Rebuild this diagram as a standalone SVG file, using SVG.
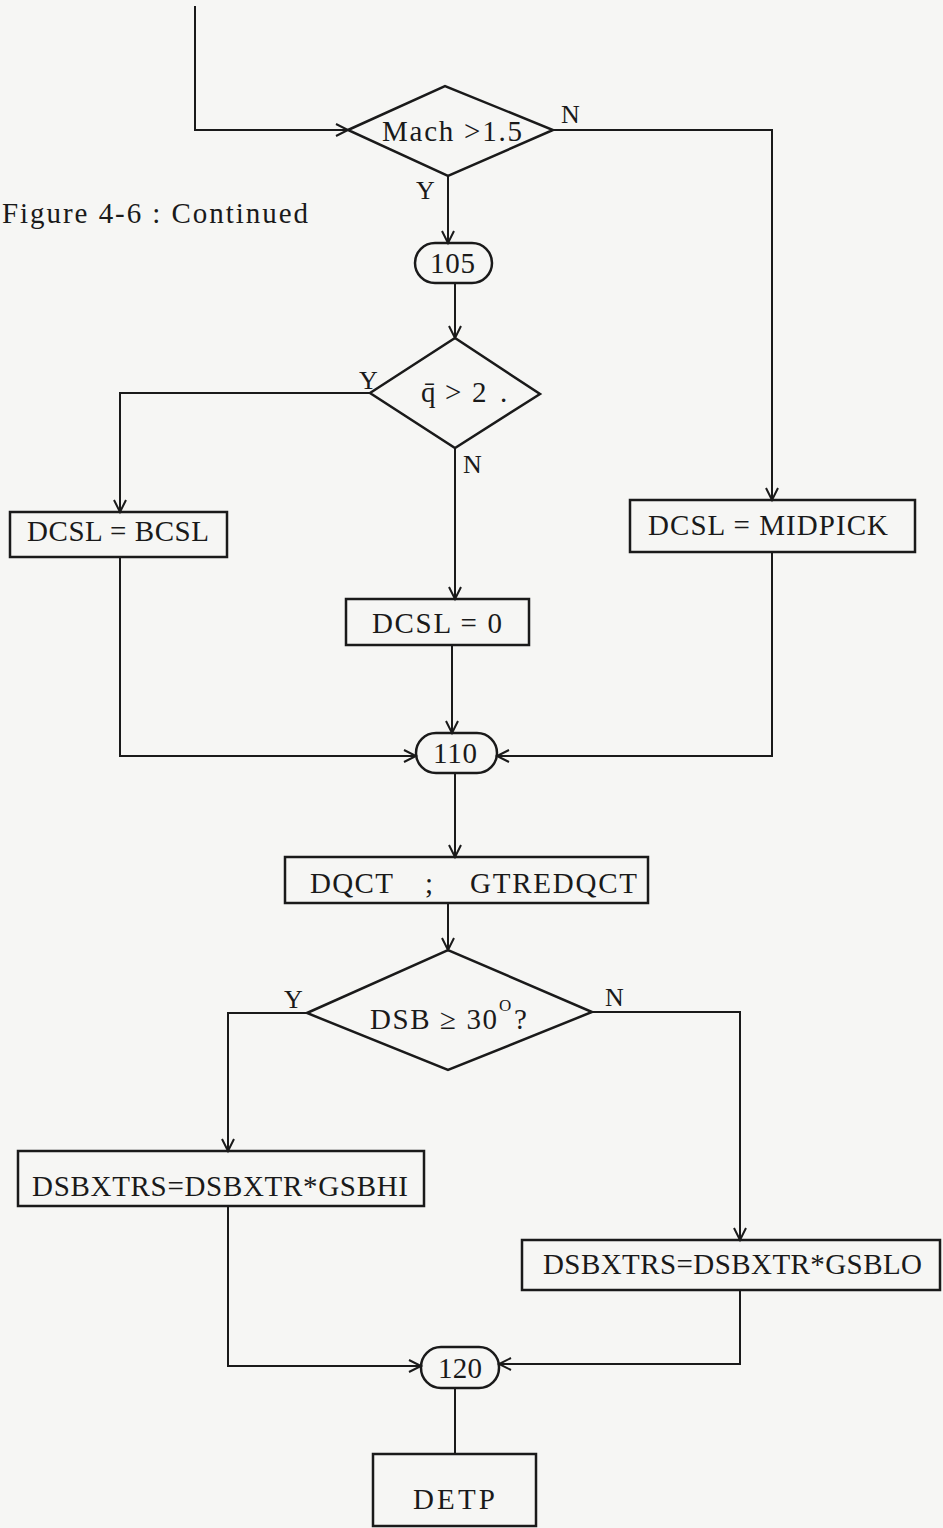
<svg xmlns="http://www.w3.org/2000/svg" width="943" height="1528" viewBox="0 0 943 1528">
<style>
.bg{fill:#f6f6f4}
.box{fill:none;stroke:#1a1a1a;stroke-width:2.5}
.ln{fill:none;stroke:#1a1a1a;stroke-width:2}
.t{font-family:"Liberation Serif","DejaVu Serif",serif;font-size:29px;fill:#1a1a1a}
.lb{font-family:"Liberation Serif","DejaVu Serif",serif;font-size:26px;fill:#1a1a1a}
</style>
<defs>
<marker id="ar" markerUnits="userSpaceOnUse" markerWidth="16" markerHeight="14" refX="13" refY="7" orient="auto">
<path d="M1,1 L13,7 L1,13" fill="none" stroke="#1a1a1a" stroke-width="2"/>
</marker>
</defs>
<rect class="bg" x="0" y="0" width="943" height="1528"/>
<text class="t" x="2" y="223" font-size="27" textLength="306" lengthAdjust="spacing">Figure 4-6 : Continued</text>
<g id="connectors">
<path class="ln" d="M195,6 V130 H348" marker-end="url(#ar)"/>
<path class="ln" d="M448,176 V243" marker-end="url(#ar)"/>
<path class="ln" d="M553,130 H772 V500" marker-end="url(#ar)"/>
<path class="ln" d="M455,283 V338" marker-end="url(#ar)"/>
<path class="ln" d="M370,393 H120 V512" marker-end="url(#ar)"/>
<path class="ln" d="M455,448 V599" marker-end="url(#ar)"/>
<path class="ln" d="M120,557 V756 H416" marker-end="url(#ar)"/>
<path class="ln" d="M772,552 V756 H497" marker-end="url(#ar)"/>
<path class="ln" d="M452,645 V733" marker-end="url(#ar)"/>
<path class="ln" d="M455,773 V857" marker-end="url(#ar)"/>
<path class="ln" d="M448,903 V950" marker-end="url(#ar)"/>
<path class="ln" d="M307,1013 H228 V1151" marker-end="url(#ar)"/>
<path class="ln" d="M592,1012 H740 V1240" marker-end="url(#ar)"/>
<path class="ln" d="M228,1206 V1366 H421" marker-end="url(#ar)"/>
<path class="ln" d="M740,1290 V1364 H499" marker-end="url(#ar)"/>
<path class="ln" d="M455,1388 V1454"/>
</g>
<g id="n_mach">
<polygon class="box" points="348,130 445,86 553,130 448,176"/>
<text class="t" x="382" y="141" textLength="140" lengthAdjust="spacing">Mach &gt;1.5</text>
<text class="lb" x="561" y="123">N</text>
<text class="lb" x="416" y="199">Y</text>
</g>
<g id="n_105">
<rect class="box" x="415" y="243" width="77" height="40" rx="20"/>
<text class="t" x="430" y="273" textLength="45" lengthAdjust="spacing">105</text>
</g>
<g id="n_qbar">
<polygon class="box" points="370,393 455,338 540,394 455,448"/>
<text class="t" y="402"><tspan x="421">q̄</tspan><tspan x="445">&gt;</tspan><tspan x="472">2</tspan><tspan x="500">.</tspan></text>
<text class="lb" x="359" y="389">Y</text>
<text class="lb" x="463" y="473">N</text>
</g>
<g id="n_bcsl">
<rect class="box" x="10" y="512" width="217" height="45"/>
<text class="t" x="27" y="541" textLength="182" lengthAdjust="spacing">DCSL = BCSL</text>
</g>
<g id="n_midpick">
<rect class="box" x="630" y="500" width="285" height="52"/>
<text class="t" x="648" y="535" textLength="240" lengthAdjust="spacing">DCSL = MIDPICK</text>
</g>
<g id="n_dcsl0">
<rect class="box" x="346" y="599" width="183" height="46"/>
<text class="t" x="372" y="633" textLength="130" lengthAdjust="spacing">DCSL = 0</text>
</g>
<g id="n_110">
<rect class="box" x="416" y="733" width="81" height="40" rx="20"/>
<text class="t" x="433" y="763" textLength="44" lengthAdjust="spacing">110</text>
</g>
<g id="n_dqct">
<rect class="box" x="285" y="857" width="363" height="46"/>
<text class="t" y="893"><tspan x="310" textLength="83" lengthAdjust="spacing">DQCT</tspan><tspan x="425">;</tspan><tspan x="470" textLength="167" lengthAdjust="spacing">GTREDQCT</tspan></text>
</g>
<g id="n_dsb">
<polygon class="box" points="307,1013 448,950 592,1012 448,1070"/>
<text class="t" y="1029"><tspan x="370" textLength="127" lengthAdjust="spacing">DSB ≥ 30</tspan><tspan x="499" dy="-18" font-size="17">O</tspan><tspan x="514" dy="18">?</tspan></text>
<text class="lb" x="284" y="1008">Y</text>
<text class="lb" x="605" y="1006">N</text>
</g>
<g id="n_gsbhi">
<rect class="box" x="18" y="1151" width="406" height="55"/>
<text class="t" x="32" y="1196" textLength="376" lengthAdjust="spacing">DSBXTRS=DSBXTR*GSBHI</text>
</g>
<g id="n_gsblo">
<rect class="box" x="522" y="1240" width="418" height="50"/>
<text class="t" x="543" y="1274" textLength="379" lengthAdjust="spacing">DSBXTRS=DSBXTR*GSBLO</text>
</g>
<g id="n_120">
<rect class="box" x="421" y="1347" width="78" height="41" rx="20"/>
<text class="t" x="438" y="1378" textLength="44" lengthAdjust="spacing">120</text>
</g>
<g id="n_detp">
<rect class="box" x="373" y="1454" width="163" height="72"/>
<text class="t" x="413" y="1509" textLength="82" lengthAdjust="spacing">DETP</text>
</g>
</svg>
